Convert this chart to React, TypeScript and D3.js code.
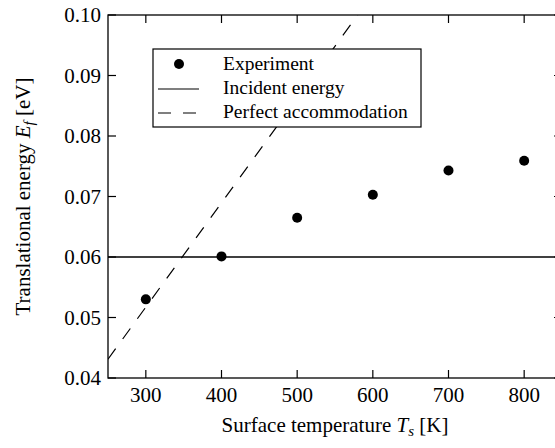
import React from "react";
import * as d3 from "d3";

const temperatures = [300, 400, 500, 600, 700, 800];
const experimentEnergy = [0.053, 0.0601, 0.0665, 0.0703, 0.0743, 0.0759];
const incidentEnergy = 0.06;
const accommodationT = [250, 580];
const accommodationE = [0.0431, 0.1];
const xTicks = [300, 400, 500, 600, 700, 800];
const yTicks = [0.04, 0.05, 0.06, 0.07, 0.08, 0.09, 0.1];
const legendLabels = ["Experiment", "Incident energy", "Perfect accommodation"];

const W = 555;
const H = 448;
const M = { left: 108, top: 15, right: 562, bottom: 378 };
const FONT = '"Liberation Serif"';
const FS = 21;
const LFS = 19.5;

export default function App() {
  const x = d3.scaleLinear().domain([250, 850]).range([M.left, M.right]);
  const y = d3.scaleLinear().domain([0.04, 0.1]).range([M.bottom, M.top]);
  const line = d3
    .line<number>()
    .x((_, i) => x(accommodationT[i]))
    .y((d) => y(d));
  const tick = 8;
  return (
    <svg
      width={W}
      height={H}
      style={{ position: "absolute", left: 0, top: 0, background: "#fff", fontFamily: FONT }}
    >
      <defs>
        <clipPath id="plot">
          <rect x={M.left} y={M.top} width={M.right - M.left} height={M.bottom - M.top} />
        </clipPath>
      </defs>
      <g clipPath="url(#plot)">
        <path d={line(accommodationE) || ""} fill="none" stroke="#000" strokeWidth={1.2} strokeDasharray="13,12" />
        <line x1={M.left} x2={M.right} y1={y(incidentEnergy)} y2={y(incidentEnergy)} stroke="#000" strokeWidth={1.3} />
        {temperatures.map((t, i) => (
          <circle key={t} cx={x(t)} cy={y(experimentEnergy[i])} r={5} fill="#000" />
        ))}
      </g>
      <rect x={M.left} y={M.top} width={M.right - M.left} height={M.bottom - M.top} fill="none" stroke="#000" strokeWidth={1.3} />
      {xTicks.map((t) => (
        <g key={t}>
          <line x1={x(t)} x2={x(t)} y1={M.bottom} y2={M.bottom - tick} stroke="#000" strokeWidth={1.2} />
          <line x1={x(t)} x2={x(t)} y1={M.top} y2={M.top + tick} stroke="#000" strokeWidth={1.2} />
          <text x={x(t)} y={M.bottom + 24} textAnchor="middle" fontSize={FS}>
            {t}
          </text>
        </g>
      ))}
      {yTicks.map((v) => (
        <g key={v}>
          <line x1={M.left} x2={M.left + tick} y1={y(v)} y2={y(v)} stroke="#000" strokeWidth={1.2} />
          <line x1={M.right} x2={M.right - tick} y1={y(v)} y2={y(v)} stroke="#000" strokeWidth={1.2} />
          <text x={M.left - 7} y={y(v) + 7} textAnchor="end" fontSize={FS}>
            {v.toFixed(2)}
          </text>
        </g>
      ))}
      <text x={(M.left + 562) / 2} y={432} textAnchor="middle" fontSize={FS}>
        Surface temperature <tspan fontStyle="italic">T</tspan>
        <tspan fontStyle="italic" fontSize={15} dy={4}>s</tspan>
        <tspan dy={-4}> [K]</tspan>
      </text>
      <text
        transform={`translate(30,${(M.top + M.bottom) / 2}) rotate(-90)`}
        textAnchor="middle"
        fontSize={FS}
      >
        Translational energy <tspan fontStyle="italic">E</tspan>
        <tspan fontStyle="italic" fontSize={15} dy={4}>f</tspan>
        <tspan dy={-4}> [eV]</tspan>
      </text>
      <rect x={153} y={49} width={268} height={78} fill="#fff" stroke="#000" strokeWidth={1.2} />
      <circle cx={179} cy={64} r={5} fill="#000" />
      <line x1={158} x2={199} y1={89} y2={89} stroke="#000" strokeWidth={1.2} />
      <line x1={158} x2={199} y1={113} y2={113} stroke="#000" strokeWidth={1.2} strokeDasharray="13,12" />
      {legendLabels.map((l, i) => (
        <text key={l} x={223} y={70 + i * 24} fontSize={LFS}>
          {l}
        </text>
      ))}
    </svg>
  );
}
